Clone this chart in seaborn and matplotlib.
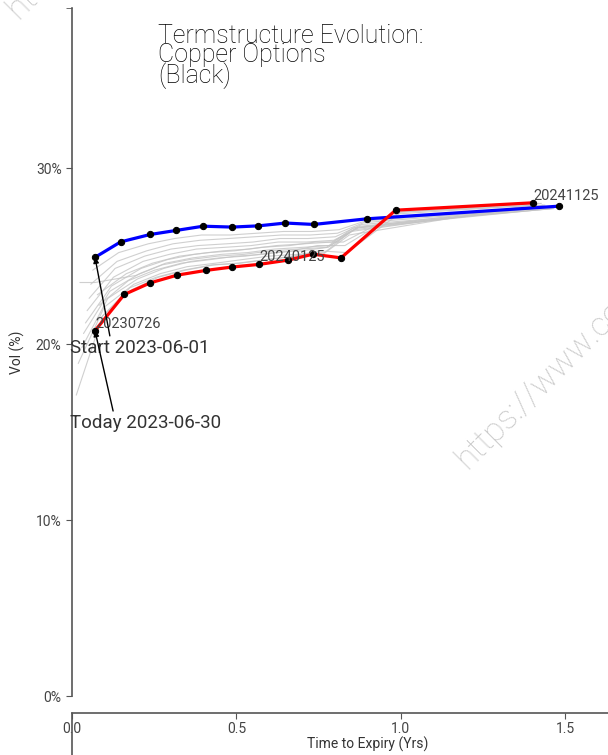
import pandas as pd
import matplotlib.pyplot as plt
from matplotlib.ticker import FuncFormatter
import seaborn as sns

# Termstructure data (time to expiry in years, vol in %)
start_ttm = [0.070, 0.148, 0.238, 0.317, 0.399, 0.487, 0.567, 0.649, 0.735, 0.897, 1.482]
start_vol = [24.93, 25.81, 26.23, 26.46, 26.70, 26.65, 26.72, 26.88, 26.80, 27.12, 27.84]

today_ttm = [0.070, 0.159, 0.238, 0.320, 0.408, 0.487, 0.569, 0.656, 0.733, 0.818, 0.984, 1.402]
today_vol = [20.76, 22.82, 23.48, 23.92, 24.19, 24.38, 24.53, 24.77, 25.11, 24.90, 27.61, 28.03]
today_expiries = ["20230726", "20230825", "20230926", "20231026", "20231124", "20231222",
                  "20240125", "20240226", "20240325", "20240425", "20240624", "20241125"]
labelled = ["20230726", "20240125", "20241125"]

# intermediate days between start and today
hist_ttm = [
    [0.063, 0.142, 0.232, 0.312, 0.394, 0.481, 0.561, 0.643, 0.729, 0.812, 0.892, 1.476],
    [0.057, 0.137, 0.227, 0.307, 0.389, 0.476, 0.556, 0.638, 0.724, 0.807, 0.887, 1.471],
    [0.052, 0.131, 0.221, 0.301, 0.383, 0.470, 0.550, 0.632, 0.718, 0.801, 0.881, 1.465],
    [0.046, 0.126, 0.216, 0.296, 0.378, 0.465, 0.545, 0.627, 0.713, 0.796, 0.876, 1.460],
    [0.041, 0.120, 0.210, 0.290, 0.372, 0.459, 0.539, 0.621, 0.707, 0.790, 0.870, 1.454],
    [0.035, 0.115, 0.205, 0.285, 0.367, 0.454, 0.534, 0.616, 0.702, 0.785, 0.865, 1.449],
    [0.030, 0.109, 0.199, 0.279, 0.361, 0.448, 0.528, 0.610, 0.696, 0.779, 0.859, 1.443],
    [0.024, 0.070, 0.194, 0.274, 0.356, 0.443, 0.523, 0.605, 0.691, 0.774, 0.854, 1.438],
    [0.019, 0.098, 0.188, 0.268, 0.350, 0.437, 0.517, 0.599, 0.685, 0.768, 0.848, 1.432],
    [0.013, 0.093, 0.183, 0.263, 0.345, 0.432, 0.512, 0.594, 0.680, 0.763, 0.843, 1.427],
    [0.088, 0.176, 0.256, 0.338, 0.425, 0.505, 0.587, 0.673, 0.751, 0.836, 1.001, 1.419],
    [0.082, 0.171, 0.251, 0.333, 0.420, 0.500, 0.582, 0.668, 0.746, 0.830, 0.996, 1.414],
    [0.077, 0.165, 0.245, 0.327, 0.414, 0.494, 0.576, 0.662, 0.740, 0.825, 0.990, 1.408],
]
hist_vol = [
    [24.2, 25.2, 25.7, 26.0, 26.2, 26.2, 26.3, 26.4, 26.4, 26.5, 27.0, 27.8],
    [23.4, 24.7, 25.3, 25.7, 25.9, 26.0, 26.1, 26.2, 26.2, 26.3, 26.9, 27.8],
    [22.6, 24.3, 25.0, 25.4, 25.6, 25.7, 25.8, 26.0, 26.0, 26.1, 26.8, 27.7],
    [21.9, 23.8, 24.7, 25.1, 25.4, 25.5, 25.6, 25.8, 25.8, 25.9, 26.7, 27.7],
    [21.2, 23.3, 24.3, 24.8, 25.1, 25.3, 25.4, 25.6, 25.7, 25.8, 26.6, 27.7],
    [20.6, 23.0, 24.0, 24.6, 24.9, 25.1, 25.2, 25.4, 25.5, 25.6, 26.6, 27.8],
    [19.8, 22.6, 23.7, 24.3, 24.7, 24.9, 25.0, 25.2, 25.3, 25.5, 26.5, 27.8],
    [23.5, 23.5, 23.9, 24.5, 24.8, 25.0, 25.1, 25.3, 25.4, 25.5, 26.6, 27.9],
    [18.9, 22.1, 23.4, 24.0, 24.4, 24.6, 24.8, 25.0, 25.1, 25.2, 26.4, 27.9],
    [17.1, 21.6, 23.1, 23.8, 24.2, 24.5, 24.6, 24.8, 25.0, 25.1, 26.2, 28.0],
    [21.5, 23.2, 23.8, 24.2, 24.5, 24.6, 24.8, 25.0, 25.3, 25.2, 27.5, 28.0],
    [22.2, 23.6, 24.2, 24.6, 24.8, 25.0, 25.1, 25.3, 25.6, 25.6, 27.5, 27.9],
    [22.8, 24.0, 24.6, 25.0, 25.2, 25.3, 25.5, 25.6, 25.8, 25.8, 27.4, 27.9],
]

sns.set_style("ticks")
plt.rcParams["font.family"] = ["Roboto", "DejaVu Sans"]
txt = "#333333"
axcol = "#555555"

hist = pd.DataFrame({
    "curve": [i for i, t in enumerate(hist_ttm) for _ in t],
    "ttm": [x for t in hist_ttm for x in t],
    "vol": [v for vs in hist_vol for v in vs],
})

fig = plt.figure(figsize=(6.08, 7.55), dpi=100)
ax = fig.add_axes([0.1184, 0.0781, 0.9737, 0.9113])

sns.lineplot(data=hist, x="ttm", y="vol", units="curve", estimator=None, sort=False,
             color="#c4c4c4", lw=0.8, alpha=0.8, ax=ax)
sns.lineplot(x=start_ttm, y=start_vol, sort=False, color="blue", lw=2.3,
             marker="o", markersize=4.5, markerfacecolor="black", markeredgecolor="black", ax=ax)
sns.lineplot(x=today_ttm, y=today_vol, sort=False, color="red", lw=2.3,
             marker="o", markersize=4.5, markerfacecolor="black", markeredgecolor="black", ax=ax)

# expiry labels on today's curve
for t, v, e in zip(today_ttm, today_vol, today_expiries):
    if e in labelled:
        ax.text(t, v, e, fontsize=10.5, color="#444444", ha="left", va="bottom")

arrow = dict(arrowstyle="-|>", color="black", lw=1, mutation_scale=8,
             relpos=(0.29, 1.0), shrinkA=0, shrinkB=0)
ax.annotate("Start 2023-06-01", xy=(start_ttm[0], start_vol[0]), xytext=(-0.006, 19.77),
            fontsize=13.5, color=txt, ha="left", va="center", arrowprops=arrow)
ax.annotate("Today 2023-06-30", xy=(today_ttm[0], today_vol[0]), xytext=(-0.006, 15.5),
            fontsize=13.5, color=txt, ha="left", va="center", arrowprops=arrow)

ax.set_xlim(0, 1.8)
ax.set_ylim(0, 39.1)
ax.set_xticks([0, 0.5, 1.0, 1.5])
ax.set_yticks([0, 10, 20, 30])
ax.set_yticks([39.1], minor=True)
ax.yaxis.set_major_formatter(FuncFormatter(lambda v, p: f"{v:.0f}%"))
ax.set_xlabel("Time to Expiry (Yrs)", fontsize=10, color=txt, labelpad=1)
ax.set_ylabel("Vol (%)", fontsize=10, color=txt, labelpad=8)
ax.tick_params(colors=axcol, labelcolor="#444444", labelsize=10, length=4)
ax.tick_params(axis="x", pad=2)
ax.tick_params(axis="y", which="minor", length=4, color=axcol)

sns.despine(ax=ax)
ax.spines["bottom"].set_position(("outward", 12.5))
for s in ["left", "bottom"]:
    ax.spines[s].set_color(axcol)
    ax.spines[s].set_linewidth(1.2)

# long tick at the origin reaching the bottom edge
ax.axvline(0, ymin=-0.1, ymax=-0.025, clip_on=False, color=axcol, lw=1.2)

fig.text(158 / 608, 1 - 24 / 755, "Termstructure Evolution:\nCopper Options\n(Black)",
         fontsize=18, fontweight="light", color="#000000", ha="left", va="top",
         linespacing=0.75)

# watermark
wm = "https://www.commodity-options.com"
fig.text(18 / 608, 1 - 20 / 755, wm, fontsize=24, fontweight="light", color="#c8c8c8",
         rotation=45, rotation_mode="anchor", ha="left", va="baseline")
fig.text(467 / 608, 1 - 470 / 755, wm, fontsize=24, fontweight="light", color="#c8c8c8",
         rotation=45, rotation_mode="anchor", ha="left", va="baseline")

fig.savefig("out.png", dpi=100)
